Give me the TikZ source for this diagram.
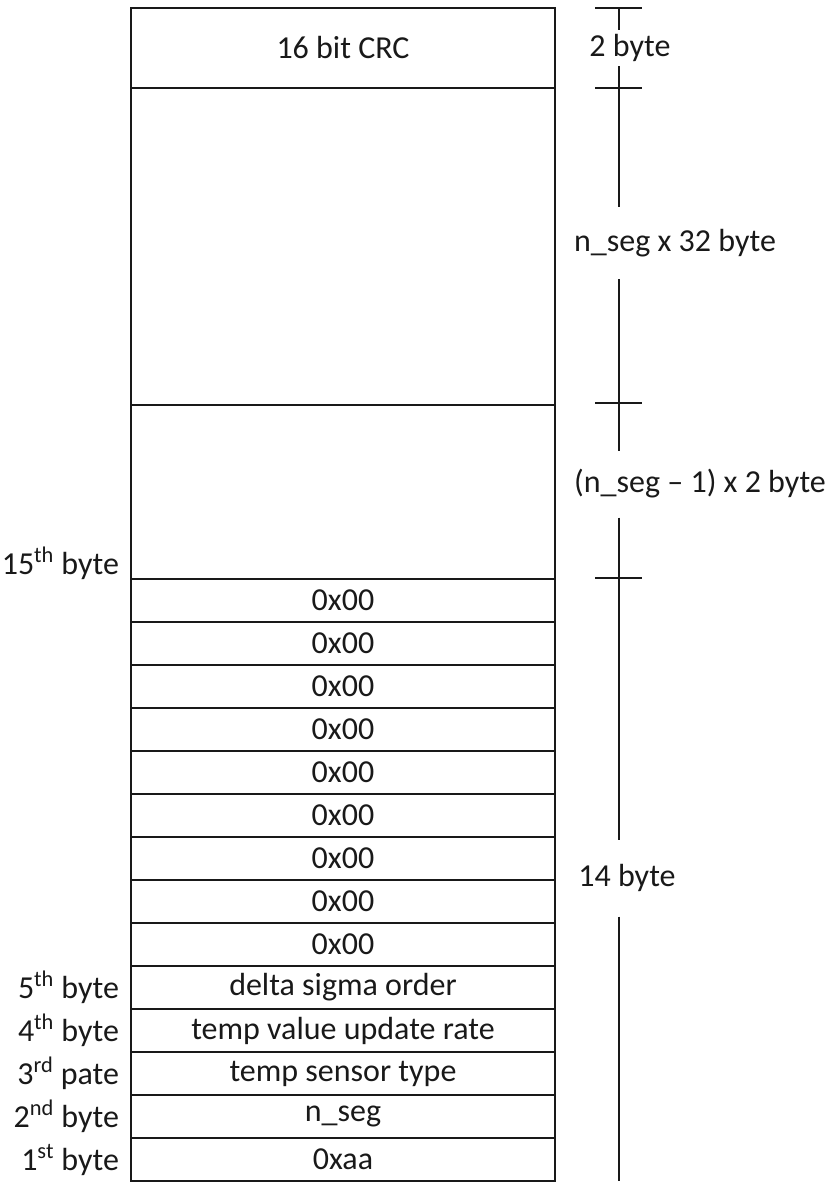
\documentclass[tikz,border=0pt]{standalone}
\usepackage{fontspec}
\setmainfont{Carlito}
\usetikzlibrary{positioning,calc}
\tikzset{
  field/.style={draw,outer sep=0pt,inner sep=0pt,minimum width=318pt,minimum height=32.25pt},
  bytelab/.style={inner sep=0pt,outer sep=0pt},
  sizelab/.style={inner sep=0pt,outer sep=0pt},
}
\begin{document}
\begin{tikzpicture}[x=0.75pt,y=-0.75pt,line width=1pt,color=black!90,
  font=\fontsize{24}{28}\selectfont]
	\useasboundingbox (0,0) rectangle (830,1189);
	% frame fields, top down
	\node[field,anchor=north west,minimum height=60pt] (crc) at (131,8) {16 bit CRC};
	\node[field,below=0pt of crc,minimum height=237.75pt] (data) {};
	\node[field,below=0pt of data,minimum height=130.5pt,alias=z0] (diff) {};
	\foreach \i [remember=\i as \prev (initially 0)] in {1,...,9}
		\node[field,below=0pt of z\prev] (z\i) {0x00};
	\node[field,below=0pt of z9] (b5) {delta sigma order};
	\node[field,below=0pt of b5] (b4) {temp value update rate};
	\node[field,below=0pt of b4] (b3) {temp sensor type};
	\node[field,below=0pt of b3] (b2) {n\_seg};
	\node[field,below=0pt of b2] (b1) {0xaa};
	% byte numbers
	\node[bytelab,anchor=east] (l15) at ($(diff.south west)+(-12,-16)$) {15\textsuperscript{th} byte};
	\node[bytelab,left=9pt of b5] (n5) {5\textsuperscript{th} byte};
	\node[bytelab,left=9pt of b4] (n4) {4\textsuperscript{th} byte};
	\node[bytelab,left=9pt of b3] (n3) {3\textsuperscript{rd} pate};
	\node[bytelab,left=9pt of b2] (n2) {2\textsuperscript{nd} byte};
	\node[bytelab,left=9pt of b1] (n1) {1\textsuperscript{st} byte};
	% size scale
	\coordinate (t1) at ($(crc.north east)+(64,0)$);
	\coordinate (t2) at ($(crc.south east)+(64,0)$);
	\coordinate (t3) at ($(data.south east)+(64,-2)$);
	\coordinate (t4) at ($(diff.south east)+(64,-1)$);
	\coordinate (bot) at ($(b1.south east)+(64,0)$);
	\node[sizelab,minimum height=27pt] (s1) at (630,48) {2 byte};
	\node[sizelab,minimum height=54pt] (s2) at (675,243) {n\_seg x 32 byte};
	\node[sizelab,minimum height=50.25pt] (s3) at (700,484) {(n\_seg \textendash{} 1) x 2 byte};
	\node[sizelab,minimum height=57.75pt] (s4) at (627,878) {14 byte};
	\draw (t1) -- (s1.north -| t1);
	\draw (s1.south -| t1) -- (s2.north -| t1);
	\draw (s2.south -| t1) -- (s3.north -| t1);
	\draw (s3.south -| t1) -- (s4.north -| t1);
	\draw (s4.south -| t1) -- (bot);
	\foreach \t in {t1,t2,t3,t4}
		\draw ($(\t)+(-24,0)$) -- ($(\t)+(23,0)$);
\end{tikzpicture}
\end{document}
